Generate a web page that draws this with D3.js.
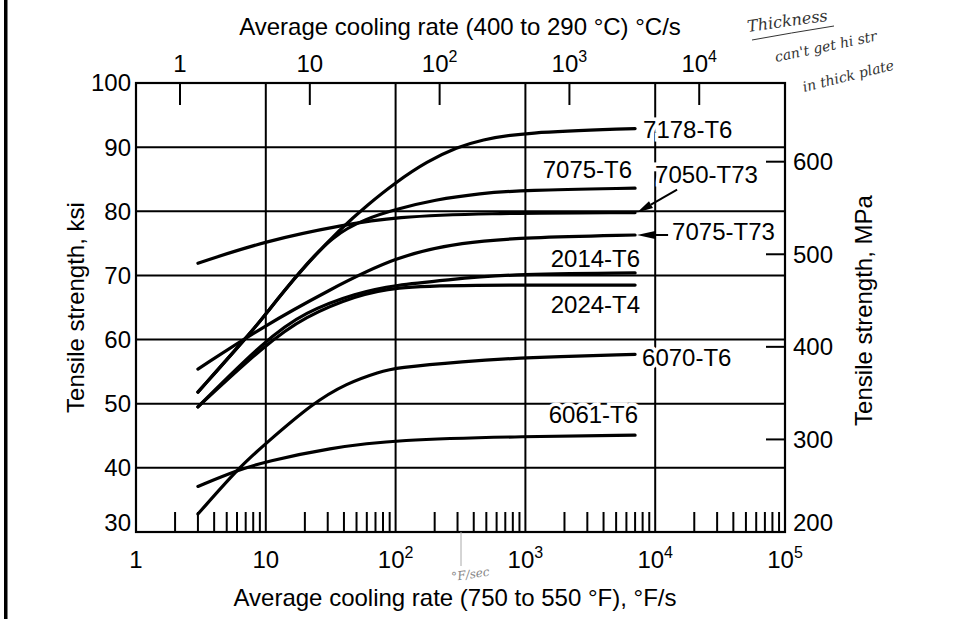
<!DOCTYPE html>
<html>
<head>
<meta charset="utf-8">
<script src="https://cdn.jsdelivr.net/npm/d3@7"></script>
<style>
  body { margin: 0; background: #fff; }
  svg { display: block; font-family: "Liberation Sans", Arial, Helvetica, sans-serif; }
  .grid line { stroke: #000; stroke-width: 2; }
  .curve { fill: none; stroke: #000; stroke-width: 3.2; stroke-linecap: round; stroke-linejoin: round; }
  .lbl { font-size: 24px; fill: #000; paint-order: stroke; stroke: #fff; stroke-width: 7px; }
  .hand { font-family: "DejaVu Serif", serif; font-style: italic; fill: #333; }
</style>
</head>
<body>
<svg class="chart"></svg>
<script>
// tick values
var ksiTicks = [30, 40, 50, 60, 70, 80, 90, 100];
var mpaTicks = [200, 300, 400, 500, 600];
var fDecades = [1, 10, 100, 1000, 10000, 100000];
var cDecades = [1, 10, 100, 1000, 10000];
var minorSteps = [2, 3, 4, 5, 6, 7, 8, 9];

// curves: [cooling rate F/s, tensile strength ksi]
var s7178T6 = [[3, 51.8], [8, 61.5], [10, 64], [18, 70.5], [39, 77.6], [60, 80.9], [100, 84.5], [175, 87.8], [300, 90.0], [450, 91.1], [950, 92.3], [7000, 92.9]];
var s7075T6 = [[3, 51.8], [8, 61.5], [10, 64], [18, 70.5], [33, 76.3], [60, 78.9], [100, 80.3], [200, 81.8], [450, 82.8], [950, 83.3], [7000, 83.6]];
var s7050T73 = [[3, 71.9], [10, 75.4], [40, 77.9], [100, 79.1], [450, 79.7], [7000, 79.8]];
var s7075T73 = [[3, 55.4], [10, 62.3], [30, 67.6], [100, 73.0], [330, 75.2], [1000, 75.9], [7000, 76.3]];
var s2014T6 = [[3, 49.5], [10, 60.0], [20, 64.3], [50, 67.3], [100, 68.5], [250, 69.3], [700, 70.2], [7000, 70.4]];
var s2024T4 = [[3, 49.5], [10, 59.3], [20, 63.6], [50, 66.9], [100, 68.2], [300, 68.5], [7000, 68.5]];
var s6070T6 = [[3, 32.8], [6.3, 40.2], [10, 43.8], [23, 50.1], [42, 53.2], [76, 55.0], [100, 55.6], [330, 56.6], [1000, 57.2], [7000, 57.7]];
var s6061T6 = [[3, 37.1], [6, 39.6], [10, 41.0], [31, 43.1], [100, 44.4], [1000, 44.9], [7000, 45.1]];

const W = 953, H = 619;
const margin = {top: 83, right: 168, bottom: 87, left: 136};
var width = W - margin.left - margin.right;
var height = H - margin.top - margin.bottom;

var svg = d3.select('.chart').attr('width', W).attr('height', H);

// scanned page edge
svg.append('rect').attr('x', 4).attr('y', 0).attr('width', 3.5).attr('height', H).attr('fill', '#000');

var chart = svg.append('g')
  .attr('transform', 'translate(' + margin.left + ',' + margin.top + ')');

var x = d3.scaleLog().domain([1, 1e5]).range([0, width]);
// top scale (C/s) is offset from the F/s scale as drawn
var cStart = 0.458;
var xTop = d3.scaleLog().domain([cStart, cStart * 1e5]).range([0, width]);
var y = d3.scaleLinear().domain([30, 100]).range([height, 0]);
var yMpa = d3.scaleLinear().domain([200, 685]).range([height, 0]);

// grid
var grid = chart.append('g').attr('class', 'grid');
grid.selectAll('.vg').data(fDecades.slice(1, -1)).join('line')
  .attr('x1', d => x(d)).attr('x2', d => x(d)).attr('y1', 0).attr('y2', height);
grid.selectAll('.hg').data(ksiTicks.slice(1, -1)).join('line')
  .attr('class', 'hg')
  .attr('x1', 0).attr('x2', width).attr('y1', d => y(d)).attr('y2', d => y(d));

chart.append('rect').attr('width', width).attr('height', height)
  .attr('fill', 'none').attr('stroke', '#000').attr('stroke-width', 2.2);

// bottom minor ticks
var minors = [];
fDecades.slice(0, -1).forEach(function(d) { minorSteps.forEach(function(m) { minors.push(d * m); }); });
chart.append('g').attr('class', 'grid').selectAll('line').data(minors).join('line')
  .attr('x1', d => x(d)).attr('x2', d => x(d)).attr('y1', height).attr('y2', height - 20);

// top ticks (C/s)
chart.append('g').attr('class', 'grid').selectAll('line').data(cDecades).join('line')
  .attr('x1', d => xTop(d)).attr('x2', d => xTop(d)).attr('y1', 0).attr('y2', 22);

// right ticks (MPa)
chart.append('g').attr('class', 'grid').selectAll('line').data(mpaTicks.slice(1)).join('line')
  .attr('x1', width - 19).attr('x2', width).attr('y1', d => yMpa(d)).attr('y2', d => yMpa(d));

// power-of-ten label
function powLabel(sel, d) {
  var e = Math.round(Math.log10(d));
  if (e === 0) { sel.text('1'); return; }
  sel.append('tspan').text('10');
  if (e > 1) sel.append('tspan').attr('font-size', '16px').attr('dy', -10).text(e);
}

chart.append('g').selectAll('text').data(fDecades).join('text')
  .attr('x', d => x(d)).attr('y', height + 36).attr('text-anchor', 'middle')
  .attr('font-size', '24px')
  .each(function(d) { powLabel(d3.select(this), d); });

chart.append('g').selectAll('text').data(cDecades).join('text')
  .attr('x', d => xTop(d)).attr('y', -11).attr('text-anchor', 'middle')
  .attr('font-size', '24px')
  .each(function(d) { powLabel(d3.select(this), d); });

chart.append('g').selectAll('text').data(ksiTicks).join('text')
  .attr('x', -5).attr('y', d => y(d) - (d === 30 ? 9 : 0)).attr('dy', '0.35em')
  .attr('text-anchor', 'end').attr('font-size', '24px').text(d => d);

chart.append('g').selectAll('text').data(mpaTicks).join('text')
  .attr('x', width + 8).attr('y', d => yMpa(d) - (d === 200 ? 9 : 0)).attr('dy', '0.35em')
  .attr('font-size', '24px').text(d => d);

// axis titles
svg.append('text').attr('x', 460).attr('y', 35).attr('text-anchor', 'middle')
  .attr('font-size', '24px').text('Average cooling rate (400 to 290 °C) °C/s');
svg.append('text').attr('x', 455).attr('y', 606).attr('text-anchor', 'middle')
  .attr('font-size', '24px').text('Average cooling rate (750 to 550 °F), °F/s');
svg.append('text').attr('transform', 'translate(84,' + (margin.top + height / 2) + ') rotate(-90)')
  .attr('text-anchor', 'middle').attr('font-size', '24px').text('Tensile strength, ksi');
svg.append('text').attr('transform', 'translate(872,' + (margin.top + height / 2 + 3) + ') rotate(-90)')
  .attr('text-anchor', 'middle').attr('font-size', '24px').text('Tensile strength, MPa');

// curves
var series = [
  {name: '7178-T6', pts: s7178T6, dx: 8, dy: 9, anchor: 'start'},
  {name: '7075-T6', pts: s7075T6, dx: -3, dy: -10, anchor: 'end'},
  {name: '7050-T73', pts: s7050T73, dx: 20, dy: -30, anchor: 'start'},
  {name: '7075-T73', pts: s7075T73, dx: 37, dy: 5, anchor: 'start'},
  {name: '2014-T6', pts: s2014T6, dx: 5, dy: -6, anchor: 'end'},
  {name: '2024-T4', pts: s2024T4, dx: 5, dy: 28, anchor: 'end'},
  {name: '6070-T6', pts: s6070T6, dx: 7, dy: 12, anchor: 'start'},
  {name: '6061-T6', pts: s6061T6, dx: 3, dy: -12, anchor: 'end'}
];

var line = d3.line().x(d => x(d[0])).y(d => y(d[1])).curve(d3.curveBasis);

chart.append('g').selectAll('path').data(series).join('path')
  .attr('class', 'curve').attr('d', d => line(d.pts));

chart.append('g').selectAll('text').data(series).join('text')
  .attr('class', 'lbl')
  .attr('x', d => x(d.pts[d.pts.length - 1][0]) + d.dx)
  .attr('y', d => y(d.pts[d.pts.length - 1][1]) + d.dy)
  .attr('text-anchor', d => d.anchor)
  .text(d => d.name);

// arrows pointing at the 7050-T73 and 7075-T73 curve ends
function arrow(pts, tx, ty, len) {
  var end = pts[pts.length - 1];
  var px = x(end[0]) + 2, py = y(end[1]);
  var vx = tx - px, vy = ty - py, n = Math.sqrt(vx * vx + vy * vy);
  vx /= n; vy /= n;
  var bx = px + vx * len, by = py + vy * len;
  chart.append('path')
    .attr('d', 'M' + px + ',' + py + 'L' + (bx - vy * 4) + ',' + (by + vx * 4) + 'L' + (bx + vy * 4) + ',' + (by - vx * 4) + 'Z')
    .attr('fill', '#000');
  chart.append('line').attr('x1', bx).attr('y1', by).attr('x2', tx).attr('y2', ty)
    .attr('stroke', '#000').attr('stroke-width', 2);
}
arrow(s7050T73, x(7000) + 42, y(79.8) - 23, 16);
arrow(s7075T73, x(7000) + 33, y(76.3), 18);

// handwritten notes on the scan
var notes = svg.append('g').attr('class', 'hand');
notes.append('text').attr('transform', 'translate(748,32) rotate(-8)').attr('font-size', '16px').text('Thickness');
notes.append('path').attr('d', 'M752,40 Q790,33 834,26').attr('stroke', '#333').attr('fill', 'none').attr('stroke-width', 1);
notes.append('text').attr('transform', 'translate(776,62) rotate(-12)').attr('font-size', '14px').text("can't get hi str");
notes.append('text').attr('transform', 'translate(804,92) rotate(-14)').attr('font-size', '14px').text('in thick plate');
notes.append('text').attr('transform', 'translate(452,581) rotate(-8)').attr('font-size', '12px').attr('fill', '#888').text('°F/sec');
svg.append('line').attr('x1', 461).attr('x2', 461).attr('y1', margin.top + height).attr('y2', 566)
  .attr('stroke', '#aaa').attr('stroke-width', 1);
</script>
</body>
</html>
